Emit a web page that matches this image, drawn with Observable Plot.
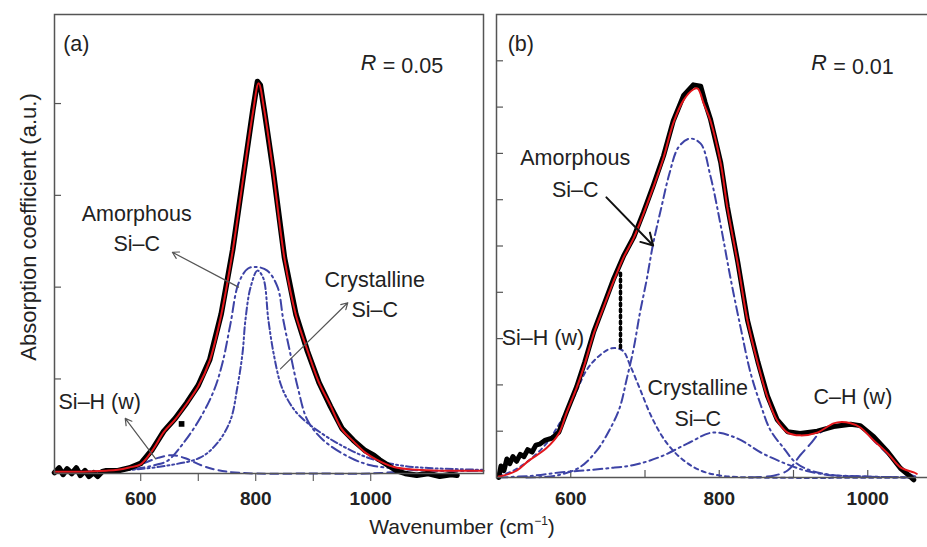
<!DOCTYPE html>
<html>
<head>
<meta charset="utf-8">
<script src="https://cdn.jsdelivr.net/npm/d3@7"></script>
<script src="https://cdn.jsdelivr.net/npm/@observablehq/plot@0.6"></script>
<style>
  body { margin:0; width:927px; height:547px; overflow:hidden; background:#fff; position:relative;
         font-family:"Liberation Sans", Arial, sans-serif; color:#222; }
  .panel { position:absolute; top:0; }
  .panel svg { max-width:none; background:transparent; overflow:hidden; }
  #ylab { position:absolute; left:-121px; top:214px; width:300px; text-align:center; font-size:22px;
          line-height:26px; transform:rotate(-90deg); transform-origin:150px 13px; white-space:nowrap; }
  #xlab { position:absolute; left:262px; top:514px; width:400px; text-align:center; font-size:21px; line-height:26px; }
  #xlab span { font-size:12px; position:relative; top:-9px; }
</style>
</head>
<body>
<div id="a" class="panel" style="left:0px;width:490px"></div>
<div id="b" class="panel" style="left:470px;width:500px"></div>
<div id="ylab">Absorption coefficient (a.u.)</div>
<div id="xlab">Wavenumber (cm<span>−1</span>)</div>
<script>
// ---------- Panel (a): R = 0.05 ----------  [wavenumber, absorption]
const aMeasured = [[450,-0.02],[458,0.03],[465,-0.04],[472,0.02],[480,-0.03],[488,0.03],[495,-0.05],[503,0.0],[510,-0.06],[518,-0.02],[525,-0.06],[533,-0.01],[540,0.0],[560,0.0],[580,0.03],[600,0.08],[620,0.23],[640,0.43],[660,0.57],[680,0.74],[700,0.93],[720,1.21],[740,1.71],[760,2.41],[780,3.28],[795,3.93],[803,4.24],[808,4.2],[815,3.92],[830,3.28],[850,2.32],[870,1.70],[890,1.30],[910,0.96],[930,0.70],[950,0.46],[970,0.33],[990,0.22],[1005,0.17],[1015,0.12],[1030,0.06],[1045,0.0],[1060,-0.03],[1080,-0.05],[1100,-0.03],[1120,-0.06],[1140,-0.04],[1150,-0.05]];
const aOutliers = [[671,0.51]];
const aFit = [[450,-0.01],[500,-0.01],[540,0.0],[560,0.01],[580,0.035],[600,0.07],[620,0.22],[640,0.42],[660,0.56],[680,0.73],[700,0.92],[720,1.2],[740,1.7],[760,2.4],[780,3.27],[795,3.9],[805,4.22],[815,3.92],[830,3.27],[850,2.31],[870,1.69],[890,1.31],[910,0.96],[930,0.71],[950,0.45],[970,0.32],[990,0.2],[1010,0.12],[1040,0.04],[1080,0.01],[1120,0.0],[1196,0.0]];
const aAmorphous = [[450,0],[560,0.0],[600,0.03],[630,0.07],[647,0.11],[674,0.3],[704,0.58],[727,0.87],[742,1.17],[756,1.6],[770,2.04],[786,2.2],[800,2.22],[820,2.18],[838,2.0],[848,1.64],[860,1.28],[873,0.91],[890,0.55],[918,0.33],[965,0.14],[1000,0.06],[1052,0.02],[1100,0.0],[1196,0.0]];
const aCrystalline = [[560,0.0],[600,0.02],[650,0.06],[704,0.145],[733,0.3],[756,0.55],[768,0.91],[777,1.28],[782,1.64],[791,2.0],[803,2.18],[813,2.1],[822,1.64],[831,1.28],[843,0.95],[855,0.78],[870,0.64],[890,0.52],[907,0.44],[942,0.3],[994,0.145],[1050,0.06],[1100,0.03],[1196,0.01]];
const aSiH = [[540,0.0],[570,0.02],[600,0.07],[630,0.14],[655,0.17],[680,0.13],[705,0.06],[725,0.02],[750,-0.01],[800,-0.03],[900,-0.03],[1000,-0.03],[1050,-0.01]];
const aXTicks = [600,700,800,900,1000];
const aYTicks = [1,2,3,4];

// ---------- Panel (b): R = 0.01 ----------
const bMeasured = [[503,0.0],[506,0.25],[510,0.15],[514,0.4],[518,0.3],[522,0.45],[527,0.35],[532,0.5],[537,0.45],[542,0.6],[548,0.55],[553,0.7],[558,0.72],[565,0.8],[575,0.85],[584,0.98],[594,1.4],[608,1.96],[619,2.5],[631,3.15],[644,3.7],[658,4.3],[671,4.78],[685,5.2],[698,5.73],[711,6.3],[725,6.95],[738,7.7],[752,8.25],[765,8.48],[775,8.45],[781,8.1],[788,7.75],[802,6.8],[811,5.85],[825,4.65],[838,3.4],[852,2.5],[865,1.76],[878,1.25],[892,0.99],[909,0.95],[932,1.0],[954,1.1],[977,1.15],[990,1.12],[1008,0.88],[1027,0.55],[1044,0.2],[1055,0.05],[1062,-0.05]];
const bFit = [[503,0.02],[509,0.04],[527,0.15],[544,0.37],[567,0.63],[584,0.95],[594,1.38],[608,1.94],[619,2.46],[631,3.11],[644,3.67],[658,4.25],[671,4.75],[685,5.18],[698,5.70],[711,6.26],[725,6.91],[738,7.65],[752,8.15],[765,8.38],[771,8.40],[779,8.08],[788,7.71],[802,6.78],[811,5.83],[825,4.62],[838,3.39],[852,2.46],[865,1.73],[878,1.23],[892,0.97],[909,0.91],[932,0.97],[954,1.17],[965,1.2],[977,1.17],[990,1.08],[1008,0.80],[1027,0.52],[1044,0.22],[1062,0.11],[1066,0.08]];
const bAmorphous = [[540,0.0],[580,0.04],[612,0.22],[635,0.58],[652,1.02],[666,1.51],[675,2.10],[685,2.81],[693,3.54],[702,4.25],[711,5.05],[722,5.83],[733,6.57],[745,7.13],[760,7.32],[775,7.21],[788,6.52],[802,5.44],[815,4.32],[829,3.22],[842,2.27],[856,1.56],[869,1.02],[887,0.63],[903,0.32],[923,0.15],[950,0.06],[1000,0.02],[1060,0.0]];
const bSiH = [[503,0.02],[523,0.15],[544,0.37],[567,0.73],[585,1.17],[604,1.73],[621,2.31],[637,2.61],[655,2.79],[670,2.74],[680,2.42],[694,1.88],[710,1.27],[730,0.73],[752,0.37],[775,0.15],[802,0.04],[850,0.0],[1064,0.0]];
const bCrystalline = [[503,0.0],[550,0.04],[585,0.11],[617,0.15],[650,0.2],[685,0.27],[721,0.45],[757,0.73],[791,0.97],[825,0.84],[856,0.54],[889,0.30],[916,0.15],[950,0.05],[1000,0.02],[1064,0.0]];
const bCH = [[840,0.0],[873,0.04],[892,0.15],[909,0.48],[923,0.73],[936,0.97],[953,1.10],[977,1.14],[993,1.06],[1008,0.80],[1027,0.50],[1044,0.22],[1058,0.06],[1064,0.02]];
const bXTicks = [600,700,800,900,1000];
const bXLabels = [600,800,1000];
const bYTicks = [1,2,3,4,5,6,7,8,9];

// ---------- annotations (data coordinates) ----------
const aLabels = [
  {x:465, y:4.68, text:"(a)", anchor:"start"},
  {x:1126, y:4.44, text:"= 0.05", anchor:"end"},
  {x:593, y:2.66, text:"Amorphous\nSi–C", anchor:"middle"},
  {x:1007, y:1.94, text:"Crystalline\nSi–C", anchor:"middle"},
  {x:457, y:0.78, text:"Si–H (w)", anchor:"start"}
];
const aItalic = [{x:1126, y:4.44, text:"R"}];
const aArrows = [
  {x1:770, y1:2.0, x2:655, y2:2.38},
  {x1:843, y1:1.11, x2:960, y2:1.83},
  {x1:626, y1:0.13, x2:573, y2:0.57}
];
const bLabels = [
  {x:515, y:9.42, text:"(b)", anchor:"start"},
  {x:1035, y:8.94, text:"= 0.01", anchor:"end"},
  {x:606, y:6.62, text:"Amorphous\nSi–C", anchor:"middle"},
  {x:507, y:3.07, text:"Si–H (w)", anchor:"start"},
  {x:771, y:1.66, text:"Crystalline\nSi–C", anchor:"middle"},
  {x:980, y:1.81, text:"C–H (w)", anchor:"middle"}
];
const bItalic = [{x:1035, y:8.94, text:"R"}];
const bArrows = [{x1:648, y1:6.05, x2:711, y2:5.01}];
const bLeader = [[667,4.41],[667,2.74]];

const BLUE = "#3d43a6", RED = "#e3171c", FONT = "'Liberation Sans', Arial, sans-serif";
const X = d => d[0], Y = d => d[1];
const FS = 21.5;

function comp(data, dash, w=2) {
  return Plot.line(data, {x:X, y:Y, stroke:BLUE, strokeWidth:w, strokeDasharray:dash, curve:"catmull-rom"});
}
function labels(list, lh) {
  return ["start","middle","end"].map(a =>
    Plot.text(list.filter(d => d.anchor === a), {x:"x", y:"y", text:"text", textAnchor:a,
      fontSize:FS, fill:"#222", lineHeight:lh}));
}

// Panel a
const aW = 490, aML = 54, aMR = 7, aH = 520, aMT = 14, aMB = 47;
const aInnerW = aW - aML - aMR, aInnerH = aH - aMT - aMB;
const plotA = Plot.plot({
  width:aW, height:aH, marginLeft:aML, marginRight:aMR, marginTop:aMT, marginBottom:aMB,
  style:{fontFamily:FONT, background:"transparent", maxWidth:"none"},
  x:{domain:[450, 450 + aInnerW/0.575], axis:null},
  y:{domain:[-0.03, 4.97], axis:null},
  marks:[
    Plot.axisX(aXTicks, {anchor:"bottom", tickSize:8, tickPadding:10, stroke:"#444", fill:"#222",
      tickFormat:d => d % 200 === 0 ? String(d) : "", fontSize:19, fontWeight:"bold", label:null}),
    Plot.ruleY(aYTicks, {insetRight:aInnerW - 7, stroke:"#555", strokeWidth:1.2}),
    comp(aSiH, "8,5"),
    comp(aAmorphous, "10,4,2,4"),
    comp(aCrystalline, "7,3,2,3,2,3"),
    Plot.line(aMeasured, {x:X, y:Y, stroke:"#000", strokeWidth:5.5, strokeLinejoin:"round"}),
    Plot.dot(aOutliers, {x:X, y:Y, symbol:"square", r:3.2, fill:"#000"}),
    Plot.line(aFit, {x:X, y:Y, stroke:RED, strokeWidth:2, curve:"catmull-rom"}),
    Plot.arrow(aArrows, {x1:"x1", y1:"y1", x2:"x2", y2:"y2", stroke:"#555", strokeWidth:1.2, headLength:9}),
    ...labels(aLabels, 1.4),
    Plot.text(aItalic, {x:"x", y:"y", text:"text", textAnchor:"end", dx:-67, fontSize:FS, fontStyle:"italic", fill:"#222"}),
    Plot.frame({stroke:"#555", strokeWidth:1.5})
  ]
});
document.getElementById("a").append(plotA);

// Panel b
const bW = 500, bML = 26, bMR = 40, bH = 520, bMT = 14, bMB = 43;
const bInnerW = bW - bML - bMR, bInnerH = bH - bMT - bMB;
const plotB = Plot.plot({
  width:bW, height:bH, marginLeft:bML, marginRight:bMR, marginTop:bMT, marginBottom:bMB,
  style:{fontFamily:FONT, background:"transparent", maxWidth:"none"},
  x:{domain:[500, 500 + bInnerW/0.7425], axis:null},
  y:{domain:[0, 10], axis:null},
  marks:[
    Plot.axisX(bXLabels, {anchor:"bottom", tickSize:0, tickPadding:14, fill:"#222",
      tickFormat:d => String(d), fontSize:19, fontWeight:"bold", label:null}),
    Plot.ruleX(bXTicks, {insetTop:bInnerH - 7, stroke:"#555", strokeWidth:1.2}),
    Plot.ruleY(bYTicks, {insetRight:bInnerW - 7, stroke:"#555", strokeWidth:1.2}),
    comp(bCH, "12,6"),
    comp(bCrystalline, "9,4,2,4"),
    comp(bSiH, "4,4"),
    comp(bAmorphous, "9,4,2,4"),
    Plot.line(bMeasured, {x:X, y:Y, stroke:"#000", strokeWidth:5, strokeLinejoin:"round"}),
    Plot.line(bFit, {x:X, y:Y, stroke:RED, strokeWidth:2, curve:"catmull-rom"}),
    Plot.line(bLeader, {x:X, y:Y, stroke:"#000", strokeWidth:3.5, strokeDasharray:"2.5,3.5"}),
    Plot.arrow(bArrows, {x1:"x1", y1:"y1", x2:"x2", y2:"y2", stroke:"#111", strokeWidth:2, headLength:10}),
    ...labels(bLabels, 1.45),
    Plot.text(bItalic, {x:"x", y:"y", text:"text", textAnchor:"end", dx:-67, fontSize:FS, fontStyle:"italic", fill:"#222"}),
    Plot.frame({stroke:"#555", strokeWidth:1.5})
  ]
});
document.getElementById("b").append(plotB);
</script>
</body>
</html>
